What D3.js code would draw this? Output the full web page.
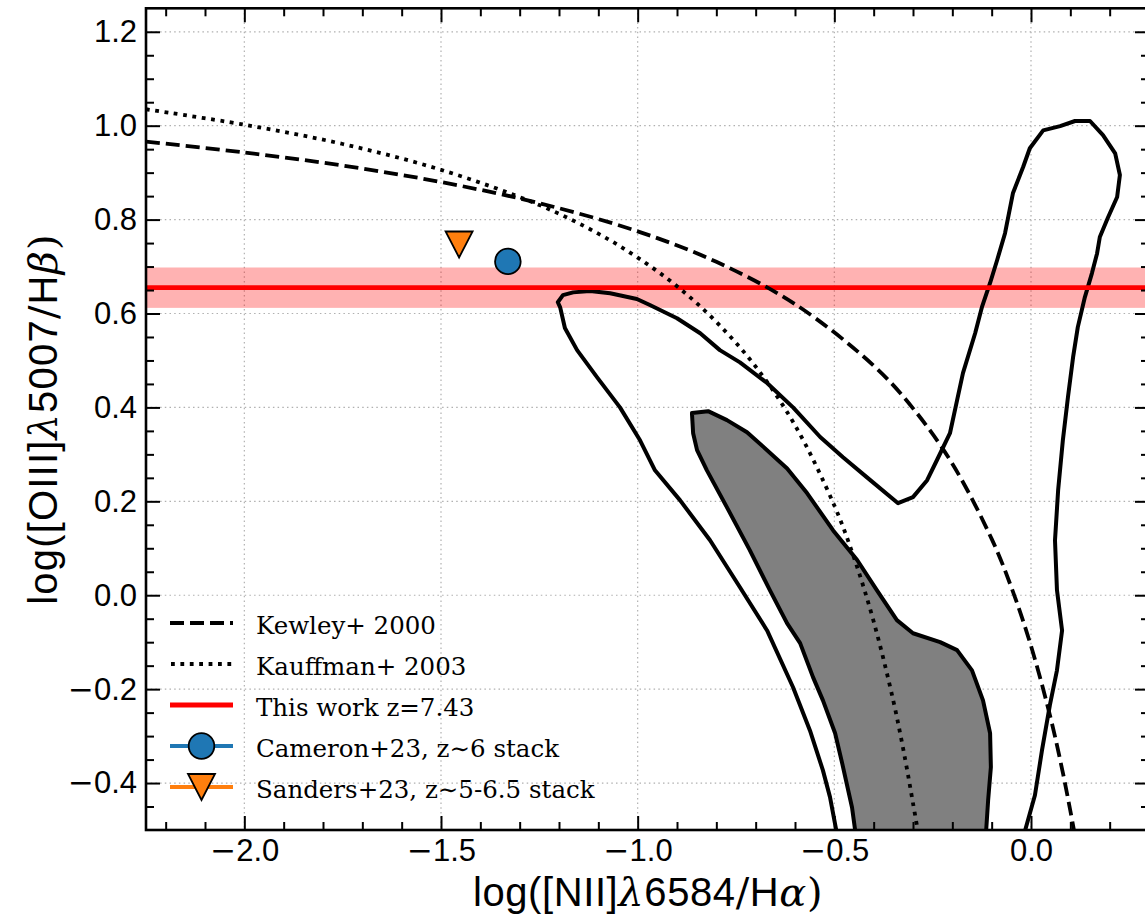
<!DOCTYPE html>
<html>
<head>
<meta charset="utf-8">
<script src="https://cdn.jsdelivr.net/npm/d3@7"></script>
<style>
  html, body { margin: 0; padding: 0; background: #fff; }
  svg { display: block; }
</style>
</head>
<body>
<svg id="chart" width="1145" height="919"></svg>
<script>
// ---- data ----
const xDomain = [-2.25, 0.3];
const yDomain = [-0.5, 1.25];
const xMajorTicks = [-2.0, -1.5, -1.0, -0.5, 0.0];
const yMajorTicks = [-0.4, -0.2, 0.0, 0.2, 0.4, 0.6, 0.8, 1.0, 1.2];

// Kewley+2001 maximum-starburst line
const kewleyX = [-2.25, -2.0, -1.75, -1.5, -1.25, -1.0, -0.8, -0.6, -0.4, -0.3, -0.2, -0.1, -0.05, 0.0, 0.05, 0.08, 0.10, 0.11];
const kewleyY = [0.966, 0.943, 0.915, 0.880, 0.835, 0.775, 0.710, 0.620, 0.489, 0.398, 0.280, 0.120, 0.017, -0.108, -0.262, -0.374, -0.459, -0.504];

// Kauffmann+2003 empirical star-forming line
const kauffX = [-2.25, -2.0, -1.75, -1.5, -1.25, -1.1, -1.0, -0.9, -0.8, -0.7, -0.6, -0.5, -0.45, -0.4, -0.35, -0.32, -0.30, -0.288];
const kauffY = [1.035, 1.002, 0.961, 0.906, 0.831, 0.770, 0.719, 0.658, 0.582, 0.487, 0.362, 0.191, 0.080, -0.056, -0.225, -0.349, -0.443, -0.500];

// outer SDSS density contour (open at the lower edge)
const outerX = [-0.493, -0.511, -0.529, -0.562, -0.605, -0.671, -0.740, -0.816, -0.892, -0.956, -0.994, -1.045, -1.103, -1.154, -1.185, -1.197, -1.203,
  -1.190, -1.164, -1.121, -1.070, -1.002, -0.969, -0.900, -0.841, -0.791, -0.740, -0.671, -0.605, -0.536, -0.478, -0.417, -0.338,
  -0.300, -0.264, -0.239, -0.206, -0.188, -0.173, -0.142, -0.125, -0.104, -0.086, -0.066, -0.046, -0.020, -0.003, 0.031, 0.074, 0.112, 0.150,
  0.183, 0.214, 0.226, 0.219, 0.196, 0.175, 0.168, 0.155, 0.137, 0.119, 0.107, 0.094, 0.081, 0.069, 0.061, 0.066, 0.079, 0.066, 0.048, 0.028, 0.010, -0.018];
const outerY = [-0.510, -0.430, -0.373, -0.288, -0.196, -0.075, 0.017, 0.117, 0.202, 0.266, 0.330, 0.400, 0.464, 0.522, 0.569, 0.613, 0.624,
  0.639, 0.645, 0.648, 0.643, 0.631, 0.618, 0.590, 0.558, 0.522, 0.496, 0.452, 0.400, 0.337, 0.294, 0.251, 0.196,
  0.209, 0.245, 0.288, 0.345, 0.415, 0.473, 0.558, 0.613, 0.665, 0.714, 0.771, 0.856, 0.912, 0.952, 0.990, 0.999, 1.010, 1.010,
  0.980, 0.941, 0.895, 0.848, 0.805, 0.763, 0.728, 0.686, 0.635, 0.571, 0.507, 0.422, 0.330, 0.224, 0.117, 0.011, -0.075, -0.160, -0.234, -0.330, -0.426, -0.510];

// inner SDSS density contour (filled)
const innerX = [-0.862, -0.821, -0.773, -0.722, -0.671, -0.620, -0.569, -0.503, -0.442, -0.392, -0.341, -0.300, -0.231, -0.188, -0.150, -0.122,
  -0.104, -0.102, -0.109, -0.114, -0.115, -0.447, -0.447, -0.455, -0.480, -0.498, -0.529, -0.554, -0.587, -0.620, -0.664, -0.715, -0.773, -0.824, -0.849, -0.859];
const innerY = [0.388, 0.392, 0.373, 0.347, 0.309, 0.270, 0.217, 0.138, 0.075, 0.011, -0.053, -0.081, -0.100, -0.117, -0.160, -0.224,
  -0.294, -0.366, -0.437, -0.501, -0.530, -0.530, -0.501, -0.452, -0.358, -0.294, -0.224, -0.175, -0.102, -0.060, 0.011, 0.096, 0.187, 0.266, 0.309, 0.345];

// [OIII]/Hbeta of this work and its uncertainty
const thisWorkRatio = [0.655];
const thisWorkErr = [0.043];

// literature stacks
const cameronPoint = [-1.33, 0.711];
const sandersPoint = [-1.454, 0.747];

const legendLabels = ["Kewley+ 2000", "Kauffman+ 2003", "This work z=7.43", "Cameron+23, z\u223C6 stack", "Sanders+23, z\u223C5-6.5 stack"];

// ---- layout ----
const svg = d3.select("#chart");
const pL = 146, pR = 1149, pT = 8.3, pB = 830;
const x = d3.scaleLinear(xDomain, [pL, pR]);
const y = d3.scaleLinear(yDomain, [pB, pT]);

const sans = "'Liberation Sans', Arial, Helvetica, sans-serif";
const serif = "'DejaVu Serif', serif";
const LW = 4;            // contour line width
const DLW = 3.8;         // demarcation line width
const DASH = "14,6";
const DOT = "3.8,5.6";

svg.append("defs").append("clipPath").attr("id", "plotclip")
  .append("rect").attr("x", pL).attr("y", pT).attr("width", pR - pL).attr("height", pB - pT);

// grid
const grid = svg.append("g").attr("stroke", "#b0b0b0").attr("stroke-width", 1.2).attr("stroke-dasharray", "1.5,3.2");
grid.selectAll("line.gx").data(xMajorTicks).join("line").attr("class", "gx")
  .attr("x1", d => x(d)).attr("x2", d => x(d)).attr("y1", pT).attr("y2", pB);
grid.selectAll("line.gy").data(yMajorTicks).join("line").attr("class", "gy")
  .attr("x1", pL).attr("x2", pR).attr("y1", d => y(d)).attr("y2", d => y(d));

const plot = svg.append("g").attr("clip-path", "url(#plotclip)");

// this work band and line
plot.selectAll("rect.band").data(thisWorkRatio).join("rect").attr("class", "band")
  .attr("x", pL).attr("width", pR - pL)
  .attr("y", (d, i) => y(d + thisWorkErr[i]))
  .attr("height", (d, i) => y(d - thisWorkErr[i]) - y(d + thisWorkErr[i]))
  .attr("fill", "red").attr("fill-opacity", 0.3);

const line = d3.line().x(d => x(d[0])).y(d => y(d[1]));
const smooth = d3.line().x(d => x(d[0])).y(d => y(d[1])).curve(d3.curveCatmullRom.alpha(0.5));
const zip = (a, b) => a.map((v, i) => [v, b[i]]);

// contours
plot.append("path").datum(zip(innerX, innerY))
  .attr("d", d => line(d) + "Z")
  .attr("fill", "#808080").attr("stroke", "#000").attr("stroke-width", LW).attr("stroke-linejoin", "round");
plot.append("path").datum(zip(outerX, outerY))
  .attr("d", line)
  .attr("fill", "none").attr("stroke", "#000").attr("stroke-width", LW).attr("stroke-linejoin", "round");

plot.selectAll("line.tw").data(thisWorkRatio).join("line").attr("class", "tw")
  .attr("x1", pL).attr("x2", pR).attr("y1", d => y(d)).attr("y2", d => y(d))
  .attr("stroke", "red").attr("stroke-width", 4.8);

// demarcation lines
plot.append("path").datum(zip(kewleyX, kewleyY)).attr("d", smooth)
  .attr("fill", "none").attr("stroke", "#000").attr("stroke-width", DLW).attr("stroke-dasharray", DASH);
plot.append("path").datum(zip(kauffX, kauffY)).attr("d", smooth)
  .attr("fill", "none").attr("stroke", "#000").attr("stroke-width", DLW).attr("stroke-dasharray", DOT);

// markers
function drawCircle(g, cx, cy) {
  g.append("circle").attr("cx", cx).attr("cy", cy).attr("r", 12.8)
    .attr("fill", "#1f77b4").attr("stroke", "#000").attr("stroke-width", 1.8);
}
function drawTriangle(g, cx, cy) {
  const w = 13.5, h = 13;
  g.append("path").attr("d", `M${cx - w},${cy - h}L${cx + w},${cy - h}L${cx},${cy + h}Z`)
    .attr("fill", "#ff7f0e").attr("stroke", "#000").attr("stroke-width", 1.8).attr("stroke-linejoin", "miter");
}
drawCircle(plot, x(cameronPoint[0]), y(cameronPoint[1]));
drawTriangle(plot, x(sandersPoint[0]), y(sandersPoint[1]));

// axes
const xMinor = d3.range(-22, 3).map(v => v / 10).filter(v => !xMajorTicks.some(t => Math.abs(t - v) < 1e-9));
const yMinor = d3.range(-9, 25).map(v => v / 20).filter(v => !yMajorTicks.some(t => Math.abs(t - v) < 1e-9));
const fmt = d3.format(".1f");

function styleAxis(g) {
  g.select(".domain").remove();
  g.selectAll(".tick line").attr("stroke", "#000").attr("stroke-width", 2);
  g.selectAll(".tick text").attr("font-family", sans).attr("font-size", 31).attr("fill", "#000");
}
// split the minus sign into its own wider glyph
function wideMinus(g) {
  g.selectAll(".tick text").each(function () {
    const t = d3.select(this), s = t.text();
    if (s.startsWith("\u2212")) {
      t.text(null);
      t.append("tspan").attr("font-family", "'DejaVu Sans', sans-serif").text("\u2212");
      t.append("tspan").text(s.slice(1));
    }
  });
}
svg.append("g").attr("transform", `translate(0,${pB})`)
  .call(d3.axisBottom(x).tickValues(xMajorTicks).tickFormat(fmt).tickSize(-14).tickPadding(9)).call(styleAxis).call(wideMinus);
svg.append("g").attr("transform", `translate(0,${pB})`)
  .call(d3.axisBottom(x).tickValues(xMinor).tickFormat("").tickSize(-8)).call(styleAxis);
svg.append("g").attr("transform", `translate(0,${pT})`)
  .call(d3.axisTop(x).tickValues(xMajorTicks).tickFormat("").tickSize(-14)).call(styleAxis);
svg.append("g").attr("transform", `translate(0,${pT})`)
  .call(d3.axisTop(x).tickValues(xMinor).tickFormat("").tickSize(-8)).call(styleAxis);
svg.append("g").attr("transform", `translate(${pL},0)`)
  .call(d3.axisLeft(y).tickValues(yMajorTicks).tickFormat(fmt).tickSize(-14).tickPadding(9)).call(styleAxis).call(wideMinus);
svg.append("g").attr("transform", `translate(${pL},0)`)
  .call(d3.axisLeft(y).tickValues(yMinor).tickFormat("").tickSize(-8)).call(styleAxis);
svg.append("g").attr("transform", `translate(${pR},0)`)
  .call(d3.axisRight(y).tickValues(yMajorTicks).tickFormat("").tickSize(-14)).call(styleAxis);
svg.append("g").attr("transform", `translate(${pR},0)`)
  .call(d3.axisRight(y).tickValues(yMinor).tickFormat("").tickSize(-8)).call(styleAxis);

svg.append("rect").attr("x", pL).attr("y", pT).attr("width", pR - pL).attr("height", pB - pT)
  .attr("fill", "none").attr("stroke", "#000").attr("stroke-width", 2.6);

// axis labels
function mixedLabel(t, parts) {
  parts.forEach(([txt, fam, italic]) => {
    const s = t.append("tspan").text(txt).attr("font-family", fam === "s" ? sans : serif);
    if (italic) s.attr("font-style", "italic");
  });
}
const xl = svg.append("text").attr("x", 648).attr("y", 906)
  .attr("text-anchor", "middle").attr("font-size", 40).attr("letter-spacing", 0.6).attr("fill", "#000");
mixedLabel(xl, [["log([NII]", "s"], ["\u03BB", "r", true], ["6584", "s"], ["/", "r"], ["H", "s"], ["\u03B1", "r", true], [")", "r"]]);

const yl = svg.append("text").attr("transform", `translate(57,419) rotate(-90)`)
  .attr("text-anchor", "middle").attr("font-size", 40).attr("letter-spacing", 1.2).attr("fill", "#000");
mixedLabel(yl, [["log([OIII]", "s"], ["\u03BB", "r", true], ["5007", "s"], ["/", "r"], ["H", "s"], ["\u03B2", "r", true], [")", "r"]]);

// legend
const legY = [623, 664, 705, 746, 787];
const hx0 = 170, hx1 = 233, hxm = (hx0 + hx1) / 2, tx = 256;
const lg = svg.append("g");
lg.append("line").attr("x1", hx0).attr("x2", hx1).attr("y1", legY[0]).attr("y2", legY[0])
  .attr("stroke", "#000").attr("stroke-width", DLW).attr("stroke-dasharray", DASH);
lg.append("line").attr("x1", hx0 + 1).attr("x2", hx1).attr("y1", legY[1]).attr("y2", legY[1])
  .attr("stroke", "#000").attr("stroke-width", DLW).attr("stroke-dasharray", DOT);
lg.append("line").attr("x1", hx0).attr("x2", hx1).attr("y1", legY[2]).attr("y2", legY[2])
  .attr("stroke", "red").attr("stroke-width", 4.8);
lg.append("line").attr("x1", hx0).attr("x2", hx1).attr("y1", legY[3]).attr("y2", legY[3])
  .attr("stroke", "#1f77b4").attr("stroke-width", 4);
drawCircle(lg, hxm, legY[3]);
lg.append("line").attr("x1", hx0).attr("x2", hx1).attr("y1", legY[4]).attr("y2", legY[4])
  .attr("stroke", "#ff7f0e").attr("stroke-width", 4);
drawTriangle(lg, hxm, legY[4]);
lg.selectAll("text").data(legendLabels).join("text")
  .attr("x", tx).attr("y", (d, i) => legY[i] + 10.5)
  .attr("font-family", serif).attr("font-size", 24.5).attr("fill", "#000")
  .text(d => d);
</script>
</body>
</html>
